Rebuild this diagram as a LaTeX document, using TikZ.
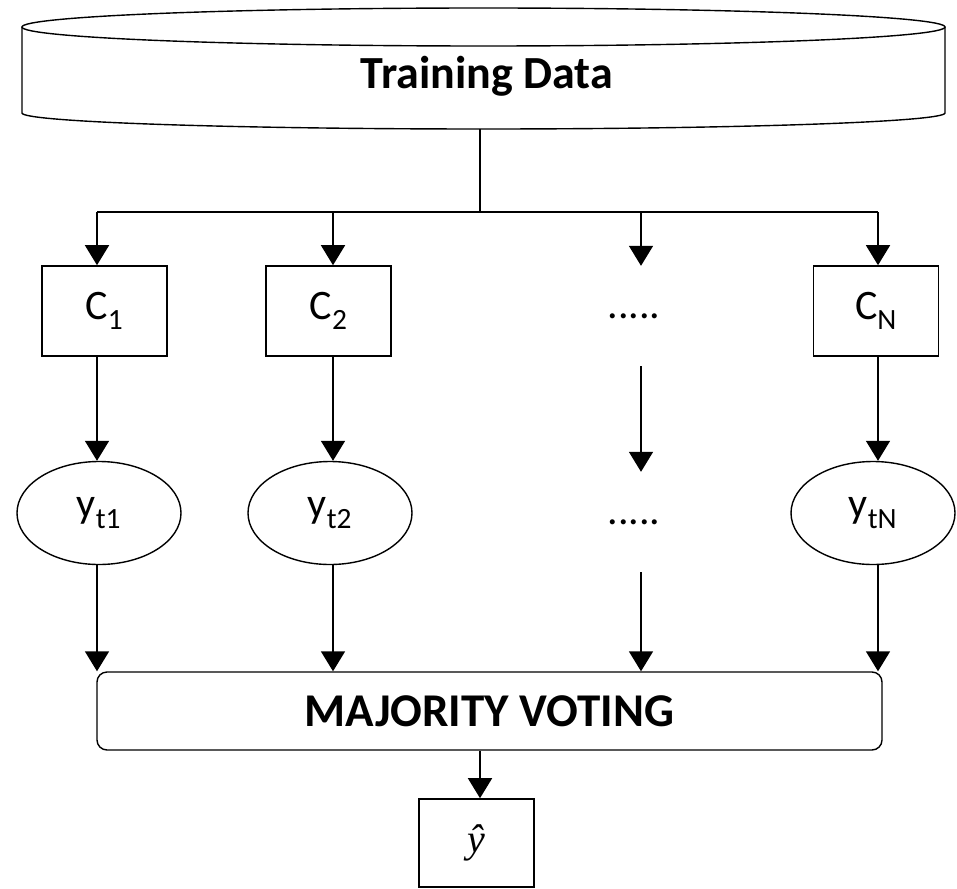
\documentclass[tikz,border=0pt]{standalone}
\usepackage{fontspec}
\setmainfont{Carlito}
\newfontfamily\hatfont{Liberation Serif}
\usetikzlibrary{shapes.geometric,arrows.meta,calc}
\tikzset{
  classbox/.style={draw,line width=1.6pt,minimum width=125pt,minimum height=90pt,
    inner sep=0pt,font=\fontsize{42}{46}\selectfont},
  predell/.style={draw,ellipse,line width=1.4pt,minimum width=164pt,minimum height=103pt,
    inner sep=0pt,font=\fontsize{42}{46}\selectfont},
  dotstxt/.style={minimum height=100pt,inner sep=0pt,font=\fontsize{42}{46}\selectfont},
  flow/.style={-{Triangle[length=20pt,width=24pt]},line width=1.6pt},
  link/.style={line width=1.6pt}
}

\begin{document}
\begin{tikzpicture}[x=1pt,y=-1pt]
  \useasboundingbox (0,0) rectangle (957,888);
  % data store
  \draw[line width=1.4pt] (22,27) -- (22,113)
    arc[start angle=180,end angle=0,x radius=461.5,y radius=16] -- (945,27);
  \draw[line width=1.4pt] (483.5,27) ellipse[x radius=461.5,y radius=19];
  \node[font=\fontsize{46}{50}\selectfont\bfseries] (data) at (487,76) {Training Data};
  \coordinate (dbase) at (480,129);
  % bus
  \coordinate (b1) at (97,212);
  \coordinate (b2) at (333,212);
  \coordinate (b3) at (641,212);
  \coordinate (b4) at (878,212);
  \draw[link] (dbase) -- (dbase |- b1);
  \draw[link] (b1) -- (b4);
  % classifiers
  \node[classbox] (c1) at (104.5,311) {C\textsubscript{1}};
  \node[classbox] (c2) at (328.5,311) {C\textsubscript{2}};
  \node[dotstxt] (dots1) at (634,316) {.....};
  \node[classbox] (cn) at (876,311) {C\textsubscript{N}};
  % predictions
  \node[predell] (yt1) at (99,513) {y\textsubscript{t1}};
  \node[predell] (yt2) at (330,513) {y\textsubscript{t2}};
  \node[dotstxt] (dots2) at (634,522) {.....};
  \node[predell] (ytn) at (873,513) {y\textsubscript{tN}};
  % voting
  \node[draw,line width=1.4pt,rounded corners=10pt,minimum width=785pt,minimum height=78pt,
    font=\fontsize{47}{50}\selectfont\bfseries] (vote) at (489.5,711) {MAJORITY VOTING};
  \node[draw,line width=1.6pt,minimum width=115pt,minimum height=88pt,inner sep=0pt,
    font=\hatfont\itshape\fontsize{40}{44}\selectfont] (yhat) at (476.5,843) {ŷ};
  % arrows
  \draw[flow] (b1) -- (b1 |- c1.north);
  \draw[flow] (b2) -- (b2 |- c2.north);
  \draw[flow] (b3) -- (b3 |- dots1.north);
  \draw[flow] (b4) -- (b4 |- cn.north);
  \draw[flow] (b1 |- c1.south) -- (b1 |- yt1.north);
  \draw[flow] (b2 |- c2.south) -- (b2 |- yt2.north);
  \draw[flow] (b3 |- dots1.south) -- (b3 |- dots2.north);
  \draw[flow] (b4 |- cn.south) -- (b4 |- ytn.north);
  \draw[flow] (b1 |- yt1.south) -- (b1 |- vote.north);
  \draw[flow] (b2 |- yt2.south) -- (b2 |- vote.north);
  \draw[flow] (b3 |- dots2.south) -- (b3 |- vote.north);
  \draw[flow] (b4 |- ytn.south) -- (b4 |- vote.north);
  \draw[flow] (vote.south -| dbase) -- (yhat.north -| dbase);
\end{tikzpicture}
\end{document}
